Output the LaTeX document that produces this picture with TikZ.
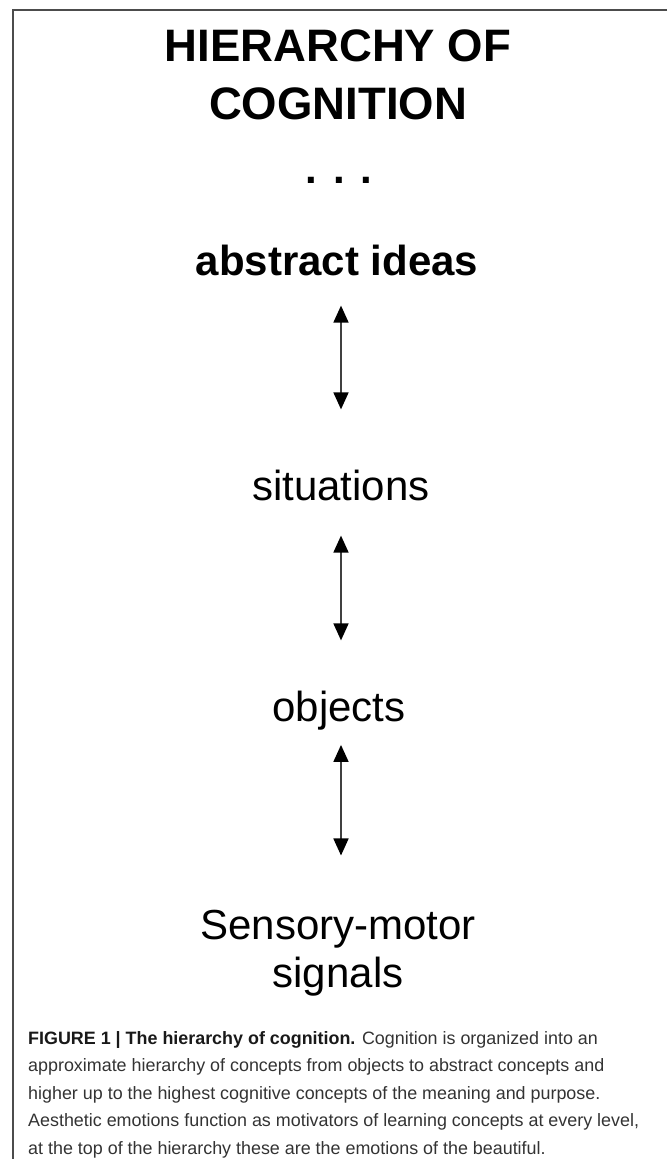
\documentclass[tikz,border=0pt]{standalone}
\usepackage{fontspec}
\setmainfont{Liberation Sans}
\usetikzlibrary{arrows.meta}

\begin{document}
\begin{tikzpicture}[
  x=1pt, y=-1pt,
  >={Triangle[length=17pt,width=15pt,color=black]},
  ttl/.style    = {inner sep=0pt, anchor=north, align=center,
                   font=\fontsize{45.5}{58}\selectfont\bfseries},
  lvl/.style    = {inner sep=0pt, anchor=base, align=center,
                   font=\fontsize{42}{48}\selectfont},
  lvlarr/.style = {<->, line width=1.7pt, black!75},
  capt/.style   = {inner sep=0pt, anchor=north west, align=left, black!80,
                   font=\fontsize{17.9}{27.5}\selectfont},
  frm/.style    = {line width=1.4pt, black!70},
]
\useasboundingbox (0,0) rectangle (667,1159);

%% ------------------------------------------------------------------ FRAME
\draw[frm] (667,10) -- (13,10) -- (13,1159);

%% ------------------------------------------------------------------ LEVELS
\node[ttl] (title) at (338,30) {HIERARCHY OF\\COGNITION};
\node[lvl, font=\fontsize{42}{48}\selectfont\bfseries] (dots) at (339,183) {. . .};
\node[lvl, font=\fontsize{42}{48}\selectfont\bfseries] (ideas) at (337,275) {abstract ideas};
\node[lvl] (situ)  at (341,500) {situations};
\node[lvl] (obj)   at (339,721) {objects};
\node[lvl] (sens)  at (338,987) {Sensory-motor\\signals};

% arrows between the levels
\draw[lvlarr, shorten <=30pt, shorten >=60pt] (ideas.south -| 341,0) -- (situ.north -| 341,0);
\draw[lvlarr, shorten <=35pt, shorten >=50pt] (situ.south -| 341,0)  -- (obj.north -| 341,0);
\draw[lvlarr, shorten <=15pt, shorten >=54pt] (obj.south -| 341,0)   -- (sens.north -| 341,0);

%% ------------------------------------------------------------------ CAPTION
\node[capt] (capt) at (28,1031)
  {{\color{black!90}\bfseries FIGURE 1 | The hierarchy of cognition.} Cognition is organized into an\\
   approximate hierarchy of concepts from objects to abstract concepts and\\
   higher up to the highest cognitive concepts of the meaning and purpose.\\
   Aesthetic emotions function as motivators of learning concepts at every level,\\
   at the top of the hierarchy these are the emotions of the beautiful.};

\end{tikzpicture}
\end{document}
